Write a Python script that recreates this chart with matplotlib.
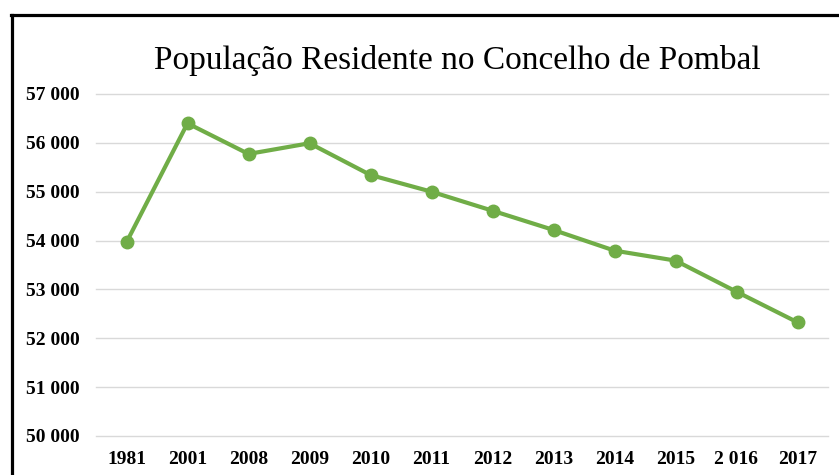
import matplotlib
matplotlib.use("Agg")
import matplotlib.pyplot as plt
from matplotlib.lines import Line2D

# ── Data ─────────────────────────────────────────────────────────────────────
years = ["1981", "2001", "2008", "2009", "2010", "2011",
         "2012", "2013", "2014", "2015", "2 016", "2017"]
population = [53965, 56400, 55773, 55992, 55342, 55000,
              54611, 54217, 53794, 53590, 52953, 52327]
y_ticks = [50000, 51000, 52000, 53000, 54000, 55000, 56000, 57000]

GREEN = "#70AD47"
SERIF = ["Liberation Serif", "DejaVu Serif"]

fig = plt.figure(figsize=(8.39, 4.75), dpi=100)
ax = fig.add_axes([96 / 839, 1 - 436 / 475, 732 / 839, 342 / 475])

x = list(range(len(years)))
ax.plot(x, population, color=GREEN, lw=3, marker="o", ms=9,
        solid_capstyle="round", zorder=3)

ax.set_xlim(-0.5, len(years) - 0.5)
ax.set_ylim(y_ticks[0], y_ticks[-1])
ax.set_xticks(x)
ax.set_xticklabels(years)
ax.set_yticks(y_ticks)
ax.set_yticklabels([f"{v:,}".replace(",", " ") for v in y_ticks])
for lab in ax.get_xticklabels() + ax.get_yticklabels():
    lab.set_family(SERIF)
    lab.set_fontweight("bold")
    lab.set_fontsize(14)
ax.tick_params(axis="both", length=0)
ax.tick_params(axis="y", pad=11.5)
ax.tick_params(axis="x", pad=10.5)

ax.grid(True, axis="y", color="#D9D9D9", lw=1)
for gl in ax.get_ygridlines():
    gl.set_clip_on(False)
ax.set_axisbelow(True)
for s in ax.spines.values():
    s.set_visible(False)

fig.text(457 / 839, 1 - 60 / 475, "População Residente no Concelho de Pombal",
         family=SERIF, fontsize=24, ha="center", va="center")

# chart-area frame: only the top and left edges are visible in the crop
fig.add_artist(Line2D([11.5 / 839, 11.5 / 839], [0, 1 - 14.5 / 475],
                      transform=fig.transFigure, color="black", lw=2.3))
fig.add_artist(Line2D([10.5 / 839, 1], [1 - 14.5 / 475, 1 - 14.5 / 475],
                      transform=fig.transFigure, color="black", lw=2.3))

fig.savefig("out.png", dpi=100)
